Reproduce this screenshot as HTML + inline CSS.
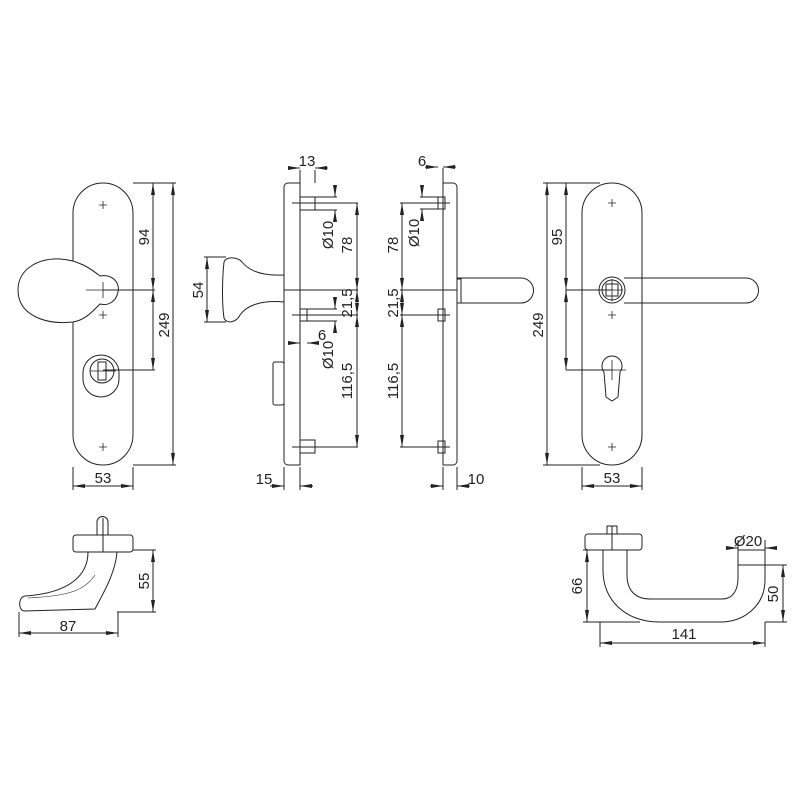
<!DOCTYPE html>
<html><head><meta charset="utf-8"><style>
html,body{margin:0;padding:0;background:#fff}
svg{display:block}
text{font-family:"Liberation Sans",sans-serif;font-size:15px;fill:#222}
</style></head><body>
<svg width="800" height="800" viewBox="0 0 800 800" xmlns="http://www.w3.org/2000/svg">
<defs>
<marker id="a" viewBox="0 0 12 4" refX="12" refY="2" markerWidth="12" markerHeight="4" orient="auto-start-reverse" markerUnits="userSpaceOnUse"><path d="M0,0 L12,2 L0,4 Z" fill="#222"/></marker>
</defs>
<g fill="none" stroke="#222" stroke-width="1">
<!-- LEFT FRONT PLATE -->
<path d="M73,213 A30,30 0 0 1 133,213 V435 A30,30 0 0 1 73,435 Z" fill="#fff"/>
<path d="M73,322 C45,325 18,315 18,290 C18,268 40,258 60,259 C78,260 90,268 100,276 C112,274 120,282 118,292 C116,302 108,306 100,304 C92,312 85,320 73,322 Z" fill="#fff"/>
<rect x="83" y="355" width="36" height="42" rx="18" />
<circle cx="102" cy="371" r="12"/>
<rect x="98" y="362" width="8" height="18"/>
<g stroke-width="0.8">
<path d="M99,205 h8 M103,201 v8 M99,315 h8 M103,311 v8 M99,447 h8 M103,443 v8 M86,290 h34 M103,282 v16 M90,371 h26"/>
</g>
<path d="M133,183 H176 M133,465 H176 M103,290 H155 M103,370 H155 M73,467 V490 M133,467 V490"/>
<line x1="153" y1="183" x2="153" y2="290" marker-start="url(#a)" marker-end="url(#a)"/>
<line x1="153" y1="290" x2="153" y2="370" marker-start="url(#a)" marker-end="url(#a)"/>
<line x1="173" y1="183" x2="173" y2="465" marker-start="url(#a)" marker-end="url(#a)"/>
<line x1="73" y1="486" x2="133" y2="486" marker-start="url(#a)" marker-end="url(#a)"/>

<!-- SIDE VIEW 1 -->
<path d="M288,183 H300 V465 H288 A4,4 0 0 1 284,461 V187 A4,4 0 0 1 288,183 Z" fill="#fff"/>
<path d="M284,275 C265,276 250,272 242,262 C238,257 226,256 224,262 C222,280 222,305 224,318 C226,324 236,323 240,315 C247,305 262,300 284,302"/>
<path d="M204,257 H226 M204,322 H226"/>
<line x1="207" y1="257" x2="207" y2="322" marker-start="url(#a)" marker-end="url(#a)"/>
<rect x="273" y="362" width="11" height="43" rx="2"/>
<rect x="300" y="197" width="15" height="13"/>
<rect x="300" y="309" width="7" height="12"/>
<rect x="300" y="440" width="15" height="13"/>
<path d="M292,203 H358 M292,315 H358 M292,447 H358 M284,290 H358 M300,183 V170 M315,183 V170 M315,197 H337 M315,210 H337 M307,309 H337 M307,321 H337 M284,467 V490 M300,467 V490"/>
<line x1="357" y1="203" x2="357" y2="290" marker-start="url(#a)" marker-end="url(#a)"/>
<line x1="357" y1="290" x2="357" y2="315" marker-start="url(#a)" marker-end="url(#a)"/>
<line x1="357" y1="315" x2="357" y2="447" marker-start="url(#a)" marker-end="url(#a)"/>
<line x1="335" y1="185" x2="335" y2="197" marker-end="url(#a)"/>
<line x1="335" y1="222" x2="335" y2="210" marker-end="url(#a)"/>
<line x1="335" y1="300" x2="335" y2="309" marker-end="url(#a)"/>
<line x1="335" y1="333" x2="335" y2="321" marker-end="url(#a)"/>
<line x1="288" y1="168" x2="300" y2="168" marker-end="url(#a)"/>
<line x1="328" y1="168" x2="315" y2="168" marker-end="url(#a)"/>
<line x1="289" y1="343" x2="300" y2="343" marker-end="url(#a)"/>
<line x1="318" y1="343" x2="307" y2="343" marker-end="url(#a)"/>
<line x1="270" y1="486" x2="284" y2="486" marker-end="url(#a)"/>
<line x1="313" y1="486" x2="300" y2="486" marker-end="url(#a)"/>

<!-- SIDE VIEW 2 -->
<path d="M443,183 H453 A4,4 0 0 1 457,187 V461 A4,4 0 0 1 453,465 H443 Z" fill="#fff"/>
<path d="M457,278 H521 A12.5,12.5 0 0 1 521,303 H457"/>
<rect x="457" y="279" width="4" height="24"/>
<rect x="438" y="197" width="7" height="12"/>
<rect x="438" y="309" width="7" height="12"/>
<rect x="438" y="441" width="7" height="12"/>
<path d="M400,203 H450 M400,290 H457 M400,315 H450 M400,447 H450 M443,183 V168 M438,197 H420 M438,209 H420 M443,467 V490 M457,467 V490"/>
<line x1="402" y1="203" x2="402" y2="290" marker-start="url(#a)" marker-end="url(#a)"/>
<line x1="402" y1="290" x2="402" y2="315" marker-start="url(#a)" marker-end="url(#a)"/>
<line x1="402" y1="315" x2="402" y2="447" marker-start="url(#a)" marker-end="url(#a)"/>
<line x1="422" y1="185" x2="422" y2="197" marker-end="url(#a)"/>
<line x1="422" y1="221" x2="422" y2="209" marker-end="url(#a)"/>
<line x1="425" y1="167" x2="438" y2="167" marker-end="url(#a)"/>
<line x1="456" y1="167" x2="443" y2="167" marker-end="url(#a)"/>
<line x1="430" y1="486" x2="443" y2="486" marker-end="url(#a)"/>
<line x1="470" y1="486" x2="457" y2="486" marker-end="url(#a)"/>

<!-- RIGHT FRONT PLATE -->
<path d="M582,213 A30,30 0 0 1 642,213 V435 A30,30 0 0 1 582,435 Z" fill="#fff"/>
<path d="M624,278 H746 A12.5,12.5 0 0 1 746,303 H624"/>
<circle cx="612" cy="290" r="13" fill="#fff"/>
<circle cx="612" cy="290" r="10"/>
<rect x="606" y="284" width="12" height="12"/>
<path d="M604,372 A10,10 0 1 1 620,372 L618,397 L612,401 L606,397 Z"/>
<g stroke-width="0.8">
<path d="M608,203 h8 M612,199 v8 M608,315 h8 M612,311 v8 M608,447 h8 M612,443 v8 M598,370 h28 M612,360 v20 M612,279 v22 M601,290 h22"/>
</g>
<path d="M543,183 H600 M543,465 H600 M566,290 H612 M566,370 H612 M582,467 V490 M642,467 V490"/>
<line x1="547" y1="183" x2="547" y2="465" marker-start="url(#a)" marker-end="url(#a)"/>
<line x1="566" y1="183" x2="566" y2="290" marker-start="url(#a)" marker-end="url(#a)"/>
<line x1="566" y1="290" x2="566" y2="370" marker-start="url(#a)" marker-end="url(#a)"/>
<line x1="582" y1="486" x2="642" y2="486" marker-start="url(#a)" marker-end="url(#a)"/>

<!-- BOTTOM LEFT -->
<path d="M97,535 V522 A5.5,5.5 0 0 1 108,522 V535"/>
<rect x="73" y="535" width="60" height="17" rx="3" fill="#fff"/>
<path d="M103,518 V552"/>
<path d="M88,552 C88,575 70,593 25,596 C18,597 18,610 24,611 L95,609 C102,595 115,575 117,552"/>
<path d="M28,598 C70,596 85,590 95,575" stroke-width="0.6"/>
<path d="M133,550 H156 M117,612 H156 M19,612 V637 M118,612 V637"/>
<line x1="153" y1="550" x2="153" y2="612" marker-start="url(#a)" marker-end="url(#a)"/>
<line x1="19" y1="633" x2="118" y2="633" marker-start="url(#a)" marker-end="url(#a)"/>

<!-- BOTTOM RIGHT -->
<rect x="607" y="526" width="10" height="8"/>
<rect x="585" y="534" width="57" height="16" rx="3" fill="#fff"/>
<path d="M612,526 V550"/>
<path d="M603,550 V570 C603,600 625,622 660,622 H720 C745,622 765,605 765,580 V565 M627,550 V575 C627,590 635,599 650,599 H722 C733,599 738,590 738,578 V565"/>
<rect x="738" y="550" width="27" height="15"/>
<path d="M583,550 H603 M765,565 H787 M765,622 H787 M583,622 H640 M600,622 V647 M765,622 V647 M738,550 V540 M765,550 V540"/>
<line x1="587" y1="550" x2="587" y2="622" marker-start="url(#a)" marker-end="url(#a)"/>
<line x1="783" y1="565" x2="783" y2="622" marker-start="url(#a)" marker-end="url(#a)"/>
<line x1="600" y1="643" x2="765" y2="643" marker-start="url(#a)" marker-end="url(#a)"/>
<line x1="726" y1="548" x2="738" y2="548" marker-end="url(#a)"/>
<line x1="777" y1="548" x2="765" y2="548" marker-end="url(#a)"/>
</g>
<text x="103" y="483" text-anchor="middle">53</text>
<text x="612" y="483" text-anchor="middle">53</text>
<text transform="translate(149,237) rotate(-90)" text-anchor="middle">94</text>
<text transform="translate(169,325) rotate(-90)" text-anchor="middle">249</text>
<text transform="translate(562,237) rotate(-90)" text-anchor="middle">95</text>
<text transform="translate(543,325) rotate(-90)" text-anchor="middle">249</text>
<text x="307" y="166" text-anchor="middle">13</text>
<text x="422" y="166" text-anchor="middle">6</text>
<text x="322" y="340" text-anchor="middle">6</text>
<text x="264" y="484" text-anchor="middle">15</text>
<text x="476" y="484" text-anchor="middle">10</text>
<text transform="translate(203,290) rotate(-90)" text-anchor="middle">54</text>
<text transform="translate(333,235) rotate(-90)" text-anchor="middle">Ø10</text>
<text transform="translate(333,355) rotate(-90)" text-anchor="middle">Ø10</text>
<text transform="translate(352,245) rotate(-90)" text-anchor="middle">78</text>
<text transform="translate(352,303) rotate(-90)" text-anchor="middle">21,5</text>
<text transform="translate(352,381) rotate(-90)" text-anchor="middle">116,5</text>
<text transform="translate(398,245) rotate(-90)" text-anchor="middle">78</text>
<text transform="translate(398,303) rotate(-90)" text-anchor="middle">21,5</text>
<text transform="translate(398,381) rotate(-90)" text-anchor="middle">116,5</text>
<text transform="translate(419,233) rotate(-90)" text-anchor="middle">Ø10</text>
<text transform="translate(149,581) rotate(-90)" text-anchor="middle">55</text>
<text x="68" y="631" text-anchor="middle">87</text>
<text transform="translate(582,586) rotate(-90)" text-anchor="middle">66</text>
<text transform="translate(778,594) rotate(-90)" text-anchor="middle">50</text>
<text x="684" y="639" text-anchor="middle">141</text>
<text x="748" y="546" text-anchor="middle">Ø20</text>
</svg>
</body></html>
